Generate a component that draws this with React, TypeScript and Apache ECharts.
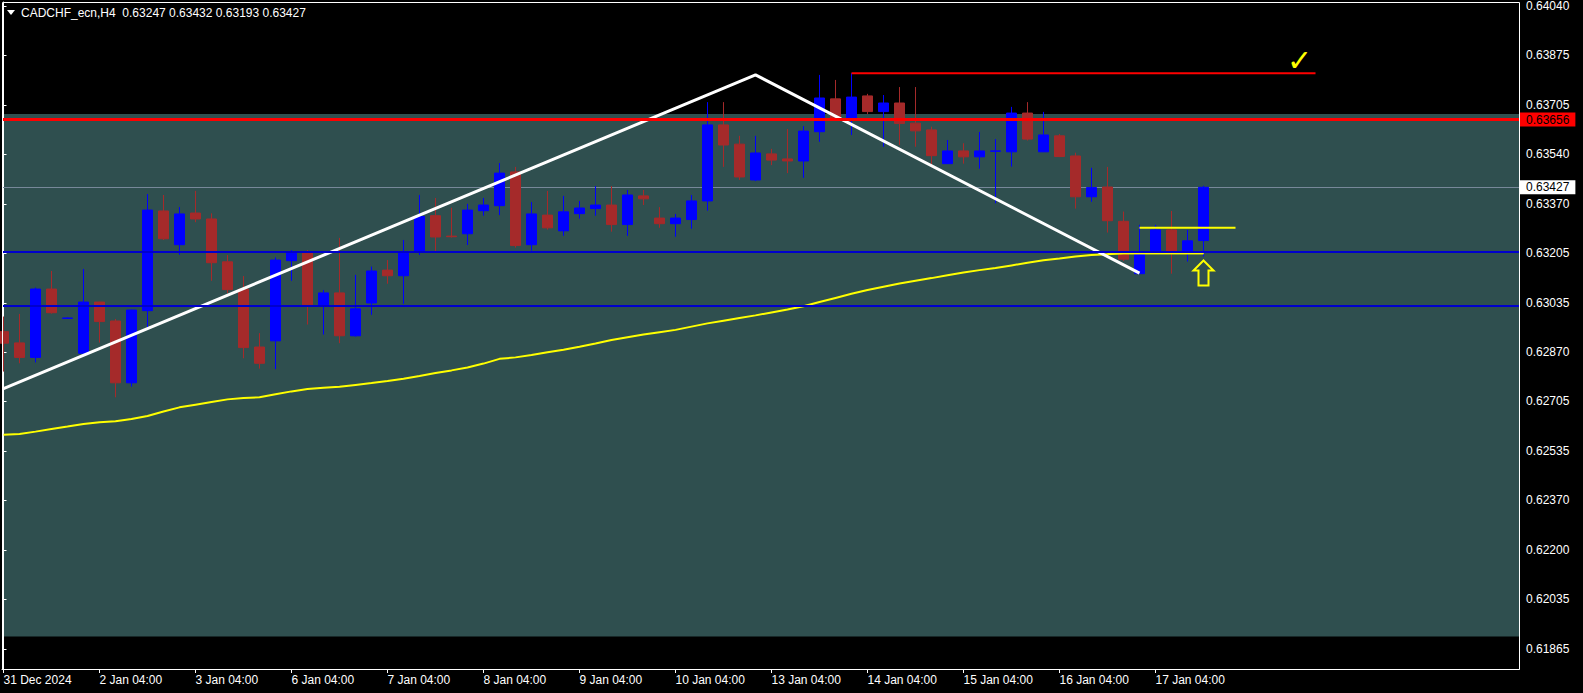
import React, { useEffect, useRef } from "react";
import * as echarts from "echarts";

// ---- tick labels ----
const dayLabels = [
  "31 Dec 2024", "2 Jan 04:00", "3 Jan 04:00", "6 Jan 04:00", "7 Jan 04:00",
  "8 Jan 04:00", "9 Jan 04:00", "10 Jan 04:00", "13 Jan 04:00", "14 Jan 04:00",
  "15 Jan 04:00", "16 Jan 04:00", "17 Jan 04:00",
];
const labelBars = [0, 6, 12, 18, 24, 30, 36, 42, 48, 54, 60, 66, 72];
const priceTicks = [
  0.61865, 0.62035, 0.622, 0.6237, 0.62535, 0.62705, 0.6287, 0.63035,
  0.63205, 0.6337, 0.6354, 0.63705, 0.63875, 0.6404,
];

// ---- H4 candles (index 0..75) ----
const opens = [
  0.62939, 0.62901, 0.62852, 0.63083, 0.62984, 0.62866, 0.63039, 0.62975, 0.62766, 0.6301,
  0.63347, 0.63233, 0.6334, 0.6332, 0.63175, 0.63083, 0.62887, 0.62908, 0.63179, 0.63208,
  0.63028, 0.6307, 0.62925, 0.63036, 0.63147, 0.63128, 0.63209, 0.63331, 0.63262, 0.6327,
  0.63348, 0.63365, 0.63479, 0.63233, 0.63333, 0.6328, 0.63338, 0.63355, 0.63367, 0.63301,
  0.63398, 0.63323, 0.63304, 0.63318, 0.63381, 0.63638, 0.63573, 0.63452, 0.6354, 0.63523,
  0.63516, 0.63615, 0.63726, 0.63659, 0.63736, 0.63683, 0.63712, 0.63644, 0.63621, 0.63507,
  0.6355, 0.6353, 0.63549, 0.63547, 0.63678, 0.63547, 0.63601, 0.63533, 0.63395, 0.63428,
  0.63312, 0.63135, 0.63209, 0.63283, 0.63209, 0.63247,
];
const closes = [
  0.629, 0.62852, 0.63083, 0.63003, 0.62985, 0.63039, 0.62973, 0.62766, 0.63012, 0.6335,
  0.63253, 0.63337, 0.6332, 0.63172, 0.63081, 0.62885, 0.62832, 0.63181, 0.63208, 0.6303,
  0.6307, 0.62925, 0.63016, 0.63144, 0.63128, 0.63208, 0.63328, 0.63259, 0.6326, 0.6335,
  0.63367, 0.63475, 0.6323, 0.63337, 0.6329, 0.63344, 0.63357, 0.63367, 0.63301, 0.63401,
  0.63388, 0.63304, 0.63323, 0.63381, 0.63638, 0.6357, 0.63462, 0.63543, 0.63519, 0.63516,
  0.63617, 0.63729, 0.6366, 0.63732, 0.63683, 0.63712, 0.63643, 0.63618, 0.63534, 0.6355,
  0.6353, 0.6355, 0.6355, 0.63678, 0.6359, 0.63604, 0.63531, 0.63395, 0.63426, 0.63314,
  0.63184, 0.63209, 0.63283, 0.63209, 0.63246, 0.63427,
];
const highs = [
  0.6299, 0.62999, 0.63088, 0.63144, 0.62987, 0.63151, 0.6304, 0.62982, 0.63013, 0.63404,
  0.63401, 0.6336, 0.63415, 0.63339, 0.63198, 0.63127, 0.62934, 0.6319, 0.63215, 0.63215,
  0.6308, 0.63256, 0.63131, 0.63159, 0.63181, 0.63249, 0.63401, 0.63391, 0.63358, 0.63371,
  0.63391, 0.63509, 0.63496, 0.63377, 0.63415, 0.63398, 0.63381, 0.63431, 0.63431, 0.63418,
  0.63418, 0.6336, 0.63337, 0.63401, 0.63715, 0.63715, 0.63601, 0.63601, 0.63557, 0.63624,
  0.63634, 0.63807, 0.6379, 0.63813, 0.63743, 0.63739, 0.63766, 0.63766, 0.63632, 0.63587,
  0.63576, 0.63614, 0.6359, 0.63699, 0.63715, 0.63682, 0.63607, 0.63544, 0.63493, 0.63496,
  0.63345, 0.633, 0.633, 0.63347, 0.63283, 0.63432,
];
const lows = [
  0.62804, 0.62832, 0.62835, 0.63, 0.62983, 0.62863, 0.62902, 0.62717, 0.62753, 0.6295,
  0.63249, 0.63199, 0.63309, 0.63111, 0.63069, 0.62849, 0.62814, 0.62812, 0.63111, 0.62963,
  0.62929, 0.629, 0.62922, 0.62996, 0.63101, 0.63033, 0.63198, 0.63212, 0.63257, 0.63232,
  0.63331, 0.63333, 0.63223, 0.63213, 0.63284, 0.63263, 0.63321, 0.63331, 0.63277, 0.63263,
  0.63367, 0.6329, 0.6326, 0.63287, 0.63348, 0.63496, 0.63452, 0.63448, 0.63502, 0.63475,
  0.63459, 0.63581, 0.63655, 0.63604, 0.63675, 0.63564, 0.6357, 0.63564, 0.63497, 0.63506,
  0.63507, 0.6349, 0.63373, 0.63497, 0.63585, 0.63564, 0.63529, 0.63355, 0.63378, 0.63274,
  0.63178, 0.63134, 0.63207, 0.63135, 0.63176, 0.63193,
];

// ---- moving average (yellow) ----
const movingAverage = [
  0.6259, 0.62593, 0.62601, 0.6261, 0.62618, 0.62627, 0.62633, 0.62636, 0.62644, 0.62654,
  0.62669, 0.62683, 0.62692, 0.62701, 0.6271, 0.62715, 0.62717, 0.62727, 0.62737, 0.62745,
  0.62749, 0.62753, 0.62759, 0.62765, 0.62772, 0.6278, 0.62789, 0.62799, 0.62808, 0.62818,
  0.62831, 0.62847, 0.62852, 0.6286, 0.62869, 0.62878, 0.62888, 0.62899, 0.62911, 0.6292,
  0.62929, 0.62937, 0.62945, 0.62956, 0.62967, 0.62976, 0.62985, 0.62994, 0.63004, 0.63014,
  0.63025, 0.63039, 0.63053, 0.63067, 0.6308, 0.63091, 0.63102, 0.63111, 0.6312, 0.6313,
  0.63139, 0.63147, 0.63154, 0.63163, 0.63172, 0.6318, 0.63186, 0.63193, 0.63198, 0.63201,
  0.63204, 0.63204, 0.63204, 0.63204, 0.63204, 0.63204,
];

// ---- drawn objects ----
const zoneTop = 0.63675;
const zoneBottom = 0.61908;
const redLevel = 0.63656;
const blueLevels = [0.63208, 0.63027];
const lastPrice = 0.63427;
const trendBars = [0, 47, 71];
const trendPrices = [0.62746, 0.63807, 0.63137];
const highLineBars = [53, 82];
const highLinePrice = 0.63813;
const boxTopBars = [71, 77];
const boxTopPrice = 0.6329;
const boxBottomBars = [69, 75];
const boxBottomPrice = 0.63204;
const checkAnchor = [81, 0.63857];
const arrowBar = 75;

const X_MIN = -0.09375;
const X_MAX = 94.71875;
const Y_MIN = 0.617984;
const Y_MAX = 0.640535;

const FONT = "Liberation Sans";

export default function App() {
  const ref = useRef<HTMLDivElement>(null);

  useEffect(() => {
    document.body.style.margin = "0";
    document.body.style.background = "#000";
    const chart = echarts.init(ref.current as HTMLDivElement, null, { renderer: "svg" });

    const candleData = opens.map((o, i) => [i, o, closes[i], lows[i], highs[i]]);

    const priceLabel = (text: string, bg: string) => ({
      show: true,
      position: "end",
      distance: 1,
      formatter: text,
      backgroundColor: bg,
      color: "#000",
      fontFamily: FONT,
      fontSize: 12,
      lineHeight: 13,
      padding: [1, 6, 0, 6],
    });

    chart.setOption({
      animation: false,
      backgroundColor: "#000000",
      textStyle: { fontFamily: FONT, fontSize: 12 },
      grid: { left: 2, right: 64, top: 2, bottom: 24, containLabel: false },
      xAxis: {
        type: "value",
        min: X_MIN,
        max: X_MAX,
        axisLine: { show: true, lineStyle: { color: "#ffffff", width: 1 } },
        axisTick: { show: true, length: 4, customValues: labelBars, lineStyle: { color: "#ffffff" } },
        axisLabel: {
          customValues: labelBars,
          formatter: (v: number) => {
            const k = labelBars.indexOf(Math.round(v));
            return k >= 0 ? dayLabels[k] : "";
          },
          color: "#ffffff",
          align: "left",
          margin: 5,
          fontSize: 12,
          fontFamily: FONT,
        },
        splitLine: { show: false },
      },
      yAxis: {
        type: "value",
        position: "right",
        min: Y_MIN,
        max: Y_MAX,
        axisLine: { show: true, lineStyle: { color: "#ffffff", width: 1 } },
        axisTick: { show: true, inside: false, length: 3, customValues: priceTicks, lineStyle: { color: "#ffffff" } },
        axisLabel: {
          customValues: priceTicks,
          formatter: (v: number) => v.toFixed(5),
          color: "#ffffff",
          margin: 7,
          fontSize: 12,
          fontFamily: FONT,
        },
        splitLine: { show: false },
      },
      series: [
        {
          name: "CADCHF_ecn,H4",
          type: "candlestick",
          data: candleData,
          barWidth: 10,
          z: 2,
          itemStyle: {
            color: "#0000FF",
            color0: "#A52A2A",
            borderColor: "#0000FF",
            borderColor0: "#A52A2A",
            borderWidth: 1,
          },
          markArea: {
            silent: true,
            z: 0,
            itemStyle: { color: "#2F4F4F", borderWidth: 0 },
            data: [[{ yAxis: zoneTop }, { yAxis: zoneBottom }]],
          },
        },
        {
          name: "MA",
          type: "line",
          data: movingAverage.map((v, i) => [i, v]),
          showSymbol: false,
          symbol: "none",
          z: 3,
          lineStyle: { color: "#FFFF00", width: 2 },
          markLine: {
            silent: true,
            z: 5,
            precision: 5,
            symbol: ["none", "none"],
            data: [
              {
                yAxis: redLevel,
                lineStyle: { color: "#FF0000", width: 3, type: "solid" },
                label: priceLabel(redLevel.toFixed(5), "#FF0000"),
              },
              ...blueLevels.map((v) => ({
                yAxis: v,
                lineStyle: { color: "#0000CD", width: 2, type: "solid" },
                label: { show: false },
              })),
            ],
          },
        },
        {
          name: "trend",
          type: "line",
          data: trendBars.map((b, i) => [b, trendPrices[i]]),
          showSymbol: false,
          symbol: "none",
          z: 4,
          lineStyle: { color: "#FFFFFF", width: 3 },
          markLine: {
            silent: true,
            z: 1,
            precision: 5,
            symbol: ["none", "none"],
            data: [
              {
                yAxis: lastPrice,
                lineStyle: { color: "#778899", width: 1, type: "solid" },
                label: priceLabel(lastPrice.toFixed(5), "#FFFFFF"),
              },
            ],
          },
        },
        {
          name: "high",
          type: "line",
          data: highLineBars.map((b) => [b, highLinePrice]),
          showSymbol: false,
          symbol: "none",
          z: 4,
          lineStyle: { color: "#FF0000", width: 2 },
        },
        {
          name: "boxTop",
          type: "line",
          data: boxTopBars.map((b) => [b, boxTopPrice]),
          showSymbol: false,
          symbol: "none",
          z: 4,
          lineStyle: { color: "#FFFF00", width: 2 },
        },
        {
          name: "boxBottom",
          type: "line",
          data: boxBottomBars.map((b) => [b, boxBottomPrice]),
          showSymbol: false,
          symbol: "none",
          z: 4,
          lineStyle: { color: "#FFFF00", width: 2 },
        },
      ],
    });

    const toPx = (x: number, y: number) => chart.convertToPixel({ gridIndex: 0 }, [x, y]) as number[];
    const tip = toPx(arrowBar, lows[arrowBar]);
    const ax = tip[0];
    const ay = tip[1] + 4;
    const chk = toPx(checkAnchor[0], checkAnchor[1]);

    chart.setOption({
      graphic: [
        {
          type: "rect",
          z: 20,
          silent: true,
          shape: { x: 2.5, y: 2.5, width: 1517, height: 667 },
          style: { fill: "none", stroke: "#FFFFFF", lineWidth: 1 },
        },
        {
          type: "polygon",
          z: 20,
          silent: true,
          shape: { points: [[7, 10], [15, 10], [11, 15]] },
          style: { fill: "#FFFFFF" },
        },
        {
          type: "text",
          z: 20,
          silent: true,
          x: 21,
          y: 13,
          style: {
            text: "CADCHF_ecn,H4  0.63247 0.63432 0.63193 0.63427",
            fill: "#FFFFFF",
            font: `12px "${FONT}"`,
            verticalAlign: "middle",
            align: "left",
          },
        },
        {
          type: "polygon",
          z: 20,
          silent: true,
          shape: {
            points: [
              [ax, ay],
              [ax + 10, ay + 10],
              [ax + 5, ay + 10],
              [ax + 5, ay + 25],
              [ax - 5, ay + 25],
              [ax - 5, ay + 10],
              [ax - 10, ay + 10],
            ],
          },
          style: { fill: "none", stroke: "#FFFF00", lineWidth: 2 },
        },
        {
          type: "text",
          z: 20,
          silent: true,
          x: chk[0],
          y: chk[1],
          style: {
            text: "✓",
            fill: "#FFFF00",
            font: `bold 30px "DejaVu Sans"`,
            align: "center",
            verticalAlign: "middle",
          },
        },
      ],
    });

    return () => chart.dispose();
  }, []);

  return (
    <div
      ref={ref}
      style={{ position: "fixed", left: 0, top: 0, width: 1583, height: 693, background: "#000" }}
    />
  );
}
